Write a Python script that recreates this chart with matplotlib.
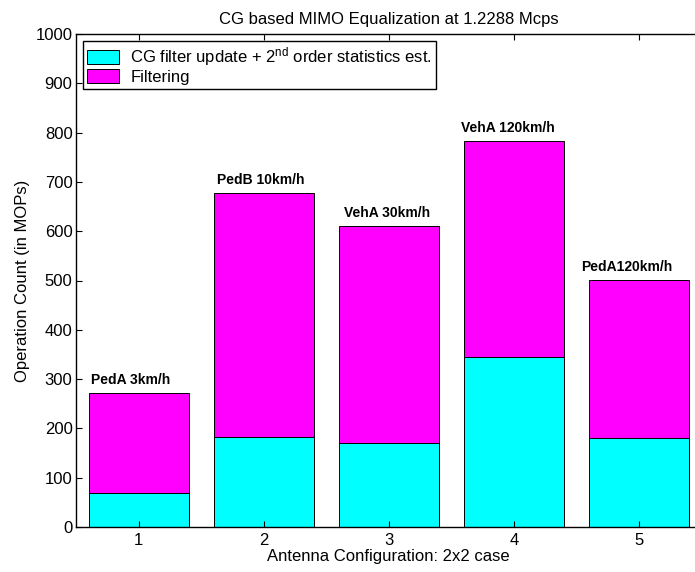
import numpy as np
import matplotlib
matplotlib.use('Agg')
import matplotlib.pyplot as plt

plt.rcParams['font.family'] = ['Liberation Sans', 'DejaVu Sans']
plt.rcParams['mathtext.default'] = 'regular'

# data
configs = [1, 2, 3, 4, 5]
cg_update = [69, 183, 171, 345, 180]
filtering = [203, 494, 439, 438, 321]
channel_labels = ['PedA 3km/h', 'PedB 10km/h', 'VehA 30km/h', 'VehA 120km/h', 'PedA120km/h']
label_shift = [-0.064, -0.02, -0.012, -0.048, -0.096]

W, H = 695, 572
fig = plt.figure(figsize=(W / 100, H / 100), dpi=100)
# axes runs slightly past the right edge, as in the original crop
ax = fig.add_axes([76 / W, 1 - 527 / H, 625.5 / W, 493 / H])

x = np.array(configs)
ax.bar(x, cg_update, width=0.8, color='#00ffff', edgecolor='black', linewidth=0.7,
       label='CG filter update + 2$^{nd}$ order statistics est.')
ax.bar(x, filtering, width=0.8, bottom=cg_update, color='#ff00ff', edgecolor='black',
       linewidth=0.7, label='Filtering')

totals = np.array(cg_update) + np.array(filtering)
for xi, t, lab, dx in zip(x, totals, channel_labels, label_shift):
    ax.text(xi + dx, t + 18, lab, ha='center', va='baseline', fontsize=10, fontweight='bold')

ax.set_xlim(0.5, 5.5)
ax.set_ylim(0, 1000)
ax.set_xticks(configs)
ax.set_yticks(np.arange(0, 1001, 100))
for s in ax.spines.values():
    s.set_linewidth(1.0)
ax.tick_params(direction='in', top=True, right=True, labelsize=12, length=4.5, width=0.8)
ax.tick_params(axis='y', pad=2.5)
ax.tick_params(axis='x', pad=4)
ax.set_xlabel('Antenna Configuration: 2x2 case', fontsize=12, labelpad=1)
ax.set_ylabel('Operation Count (in MOPs)', fontsize=12, labelpad=4)
ax.set_title('CG based MIMO Equalization at 1.2288 Mcps', fontsize=12, pad=7)

leg = ax.legend(loc='upper left', bbox_to_anchor=(83 / W, 1 - 41 / H),
                bbox_transform=fig.transFigure,
                borderaxespad=0, fontsize=12, fancybox=False, framealpha=1,
                edgecolor='black', handlelength=1.9, handleheight=0.9,
                handletextpad=0.7, borderpad=0.25, labelspacing=0.08)
leg.get_frame().set_linewidth(1.0)

plt.savefig('out.png', dpi=100)
